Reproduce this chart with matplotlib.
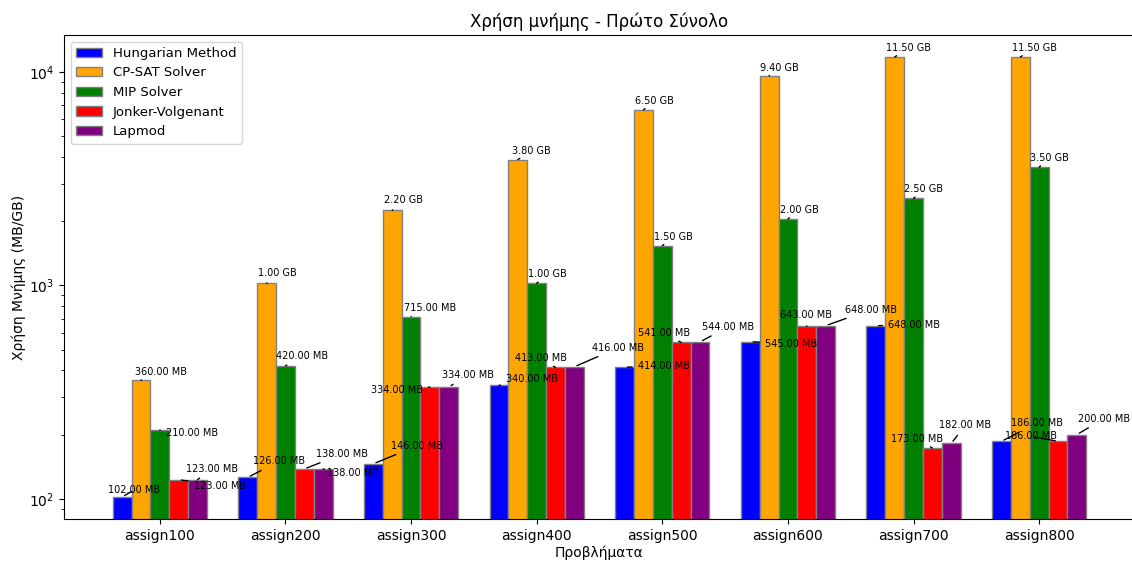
import numpy as np
import matplotlib
matplotlib.use('Agg')
from matplotlib import pyplot as plt

GB = 1024  # MB per GB

problems = ['assign100', 'assign200', 'assign300', 'assign400',
            'assign500', 'assign600', 'assign700', 'assign800']
methods = ['Hungarian Method', 'CP-SAT Solver', 'MIP Solver',
           'Jonker-Volgenant', 'Lapmod']
colors = ['blue', 'orange', 'green', 'red', 'purple']

# memory usage in MB
hungarian = [102, 126, 146, 340, 414, 545, 648, 186]
cpsat = [360, 1.0 * GB, 2.2 * GB, 3.8 * GB, 6.5 * GB, 9.4 * GB, 11.5 * GB, 11.5 * GB]
mip = [210, 420, 715, 1.0 * GB, 1.5 * GB, 2.0 * GB, 2.5 * GB, 3.5 * GB]
jonker = [123, 138, 334, 413, 541, 643, 173, 186]
lapmod = [123, 138, 334, 416, 544, 648, 182, 200]
series = [hungarian, cpsat, mip, jonker, lapmod]

# label offsets (pixels) so the value labels don't pile up
label_offsets = [
    [(12, 7), (31, 16), (44, 18), (33, 6), (39, 1), (41, -2), (38, 1), (35, 18)],
    [(20, 8), (11, 10), (11, 10), (14, 9), (11, 9), (10, 8), (14, 9), (14, 9)],
    [(32, -3), (17, 10), (19, 9), (11, 9), (11, 9), (11, 9), (10, 9), (10, 9)],
    [(41, -6), (38, 15), (-33, -3), (-15, 9), (-17, 9), (-1, 11), (-15, 9), (-27, 5)],
    [(15, 11), (30, -4), (19, 12), (44, 19), (28, 15), (45, 16), (14, 18), (27, 16)],
]


def fmt(v):
    if v >= 1000:
        return f'{v / GB:.2f} GB'
    return f'{v:.2f} MB'


fig = plt.figure(figsize=(11.32, 5.61), dpi=100)
# axes runs a little past the right edge of the canvas
ax = fig.add_axes([64 / 1132, 42 / 561, 1071 / 1132, 484 / 561])

x = np.arange(len(problems))
width = 0.15
for i, (name, vals, col) in enumerate(zip(methods, series, colors)):
    pos = x + (i - 2) * width
    ax.bar(pos, vals, width, label=name, color=col, edgecolor='grey')
    for p, v, off in zip(pos, vals, label_offsets[i]):
        ax.annotate(fmt(v), xy=(p, v), xytext=off, textcoords='offset pixels',
                    ha='center', va='center', fontsize=7,
                    arrowprops=dict(arrowstyle='-', color='black', lw=1))

ax.set_yscale('log')
ax.set_xticks(x)
ax.set_xticklabels(problems, fontsize=10)
ax.set_xlabel('Προβλήματα', labelpad=2)
ax.set_ylabel('Χρήση Μνήμης (MB/GB)', labelpad=2)
ax.set_title('Χρήση μνήμης - Πρώτο Σύνολο')
ax.legend(loc='upper left', fontsize=9.5)

plt.savefig('out.png', dpi=100)
